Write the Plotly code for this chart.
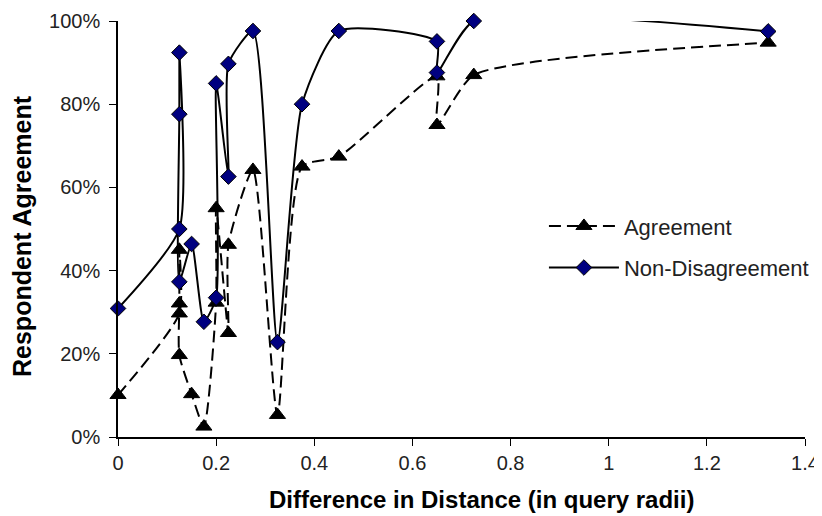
import plotly.graph_objects as go

x_vals = [0, 0.125, 0.125, 0.125, 0.125, 0.15, 0.175, 0.2, 0.2, 0.225, 0.225,
          0.275, 0.325, 0.375, 0.45, 0.65, 0.65, 0.725, 1.325]
agreement = [0.101, 0.297, 0.45, 0.321, 0.197, 0.103, 0.025, 0.323, 0.55, 0.25, 0.462,
             0.642, 0.053, 0.65, 0.674, 0.867, 0.75, 0.87, 0.948]
non_disagreement = [0.309, 0.50, 0.924, 0.776, 0.373, 0.464, 0.277, 0.335, 0.85, 0.626, 0.897,
                    0.976, 0.228, 0.80, 0.976, 0.951, 0.876, 1.0, 0.975]

x_ticks = [0, 0.2, 0.4, 0.6, 0.8, 1, 1.2, 1.4]
x_tick_text = ["0", "0.2", "0.4", "0.6", "0.8", "1", "1.2", "1.4"]
y_ticks = [0, 0.2, 0.4, 0.6, 0.8, 1.0]
y_tick_text = ["0%", "20%", "40%", "60%", "80%", "100%"]

fig = go.Figure()
fig.add_trace(go.Scatter(
    x=x_vals, y=agreement, name="Agreement", mode="lines+markers",
    legendgroup="a",
    line=dict(color="black", width=2, dash="12px,6px", shape="spline", smoothing=0.6),
    marker=dict(symbol="triangle-up", size=14, color="black",
                line=dict(color="black", width=1)),
    cliponaxis=False,
))
fig.add_trace(go.Scatter(
    x=x_vals, y=non_disagreement, name="Non-Disagreement", mode="lines+markers",
    legendgroup="b",
    line=dict(color="black", width=2, shape="spline", smoothing=0.6),
    marker=dict(symbol="diamond", size=12, color="#000080",
                line=dict(color="black", width=1)),
    cliponaxis=False,
))

tick_font = dict(family="Liberation Sans, Arial", size=20, color="#222")

fig.update_layout(
    width=814, height=508,
    margin=dict(l=110, r=17, t=13, b=79, autoexpand=False),
    paper_bgcolor="white", plot_bgcolor="white",
    showlegend=True,
    legend=dict(x=0.620, y=0.4564, xanchor="left", yanchor="middle",
                traceorder="grouped", tracegroupgap=10,
                font=dict(family="Liberation Sans, Arial", size=22, color="#222"),
                bgcolor="rgba(0,0,0,0)", itemwidth=70),
    xaxis=dict(range=[0, 1.4], tickvals=x_ticks, ticktext=x_tick_text,
               showgrid=False, zeroline=False, showline=True, linecolor="black",
               linewidth=1.5, ticks="outside", ticklen=7, tickcolor="black",
               tickfont=tick_font, automargin=False, ticklabelstandoff=0),
    yaxis=dict(range=[0, 1.0], tickvals=y_ticks, ticktext=y_tick_text,
               showgrid=False, zeroline=False, showline=True, linecolor="black",
               linewidth=1.5, ticks="outside", ticklen=7, tickcolor="black",
               tickfont=tick_font, automargin=False, ticklabelstandoff=5),
    annotations=[
        dict(text="<b>Difference in Distance (in query radii)</b>",
             xref="paper", yref="paper", x=0.5298, y=-0.151, xanchor="center", yanchor="middle",
             showarrow=False,
             font=dict(family="Liberation Sans, Arial", size=24, color="black")),
        dict(text="<b>Respondent Agreement</b>",
             xref="paper", yref="paper", x=-0.139, y=0.482, xanchor="center", yanchor="middle",
             textangle=-90, showarrow=False,
             font=dict(family="Liberation Sans, Arial", size=25, color="black")),
    ],
)

fig.write_html("out.html")
